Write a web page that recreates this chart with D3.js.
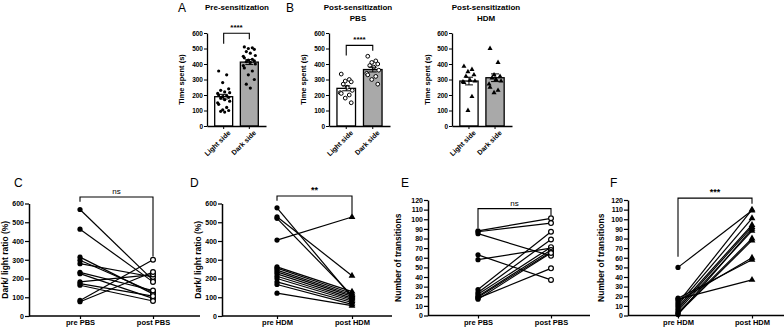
<!DOCTYPE html>
<html>
<head>
<meta charset="utf-8">
<script src="https://cdn.jsdelivr.net/npm/d3@7"></script>
<style>
  body { margin: 0; background: #fff; }
  svg { font-family: "Liberation Sans", Arial, sans-serif; }
  .axis text { font-weight: bold; fill: #000; }
  .axis path, .axis line { stroke: #000; }
</style>
</head>
<body>
<script>
// ---- data ----
const barCats = ["Light side", "Dark side"];
const barTicks = [0, 100, 200, 300, 400, 500, 600];

const preLight = [355, 330, 280, 240, 230, 220, 215, 210, 200, 195, 190, 185, 180, 170, 160, 150, 140, 120, 105, 100, 95, 90];
const preDark = [510, 505, 500, 495, 480, 470, 455, 450, 440, 430, 425, 420, 415, 410, 400, 390, 375, 355, 330, 300, 270, 245];
const pbsLight = [335, 300, 290, 285, 270, 250, 230, 215, 210, 200, 180, 150];
const pbsDark = [450, 420, 410, 400, 390, 380, 360, 340, 330, 320, 300, 270];
const hdmLight = [385, 365, 350, 330, 320, 295, 290, 285, 280, 190, 100];
const hdmDark = [500, 410, 330, 320, 310, 300, 290, 270, 250, 230, 215];

const pbsCats = ["pre PBS", "post PBS"];
const hdmCats = ["pre HDM", "post HDM"];
const ratioTicks = [0, 100, 200, 300, 400, 500, 600];
const transTicks = [0, 10, 20, 30, 40, 50, 60, 70, 80, 90, 100, 110, 120];

const ratioPrePBS = [568, 463, 314, 297, 279, 233, 226, 182, 173, 164, 83, 76];
const ratioPostPBS = [191, 182, 118, 127, 208, 136, 94, 221, 106, 80, 300, 235];
const ratioPreHDM = [577, 529, 521, 405, 262, 255, 245, 235, 225, 212, 200, 182, 168, 122];
const ratioPostHDM = [100, 215, 110, 528, 130, 120, 112, 105, 95, 88, 80, 72, 62, 55];
const transPrePBS = [88, 87, 85, 63, 58, 27, 24, 22, 20, 19, 18, 17];
const transPostPBS = [101, 96, 62, 37, 70, 87, 79, 71, 68, 66, 49, 65];
const transPreHDM = [50, 18, 17, 15, 13, 11, 9, 7, 5, 3, 2, 1];
const transPostHDM = [109, 58, 37, 60, 110, 101, 94, 92, 88, 80, 78, 90];

const svg = d3.select("body").append("svg")
    .attr("width", 784)
    .attr("height", 331);

function drawShape(g, shape, x, y) {
    if (shape === "dot") {
        g.append("circle").attr("cx", x).attr("cy", y).attr("r", 1.6).attr("fill", "#000");
    } else if (shape === "ring") {
        g.append("circle").attr("cx", x).attr("cy", y).attr("r", 1.9)
            .attr("fill", "#fff").attr("stroke", "#000").attr("stroke-width", 1);
    } else if (shape === "tri") {
        g.append("path").attr("d", d3.symbol(d3.symbolTriangle, 11)())
            .attr("transform", `translate(${x},${y})`).attr("fill", "#000");
    } else if (shape === "bigdot") {
        g.append("circle").attr("cx", x).attr("cy", y).attr("r", 2.6).attr("fill", "#000");
    } else if (shape === "bigring") {
        g.append("circle").attr("cx", x).attr("cy", y).attr("r", 2.4)
            .attr("fill", "#fff").attr("stroke", "#000").attr("stroke-width", 1.2);
    } else if (shape === "bigtri") {
        g.append("path").attr("d", d3.symbol(d3.symbolTriangle, 20)())
            .attr("transform", `translate(${x},${y})`).attr("fill", "#000");
    }
}

function bracket(g, x1, x2, yTop, yL, yR, label, size) {
    g.append("path")
        .attr("d", `M${x1},${yL}V${yTop}H${x2}V${yR}`)
        .attr("fill", "none").attr("stroke", "#000").attr("stroke-width", 1.1);
    g.append("text")
        .attr("x", (x1 + x2) / 2).attr("y", yTop - 3)
        .attr("text-anchor", "middle")
        .style("font-size", size + "px")
        .style("font-weight", label === "ns" ? "normal" : "bold")
        .text(label);
}

// ---- top row: bar charts ----
function barPanel(cfg) {
    const g = svg.append("g");
    const y = d3.scaleLinear().domain([0, 600]).range([126, 33]);
    const x = d3.scaleBand().domain(barCats).range([cfg.x0, cfg.x1])
        .paddingInner(0.3).paddingOuter(0.3);
    const groups = [cfg.light, cfg.dark];

    groups.forEach((vals, i) => {
        const m = d3.mean(vals);
        const sem = d3.deviation(vals) / Math.sqrt(vals.length);
        const bx = x(barCats[i]);
        g.append("rect")
            .attr("x", bx).attr("y", y(m))
            .attr("width", x.bandwidth()).attr("height", y(0) - y(m))
            .attr("fill", i === 0 ? "#fff" : "#a9a9a9")
            .attr("stroke", "#000").attr("stroke-width", 1.3);
        const cx = bx + x.bandwidth() / 2;
        // jitter the dots in a fixed pattern
        vals.forEach((v, j) => {
            const off = [-5, 3, -1, 5, -3, 1, 6, -6][j % 8];
            drawShape(g, cfg.shape, cx + off, y(v));
        });
        g.append("path")
            .attr("d", `M${cx},${y(m - sem)}V${y(m + sem)}M${cx - 4},${y(m + sem)}H${cx + 4}M${cx - 4},${y(m - sem)}H${cx + 4}`)
            .attr("stroke", "#000").attr("stroke-width", 1);
    });

    const ya = g.append("g").attr("class", "axis")
        .attr("transform", `translate(${cfg.x0},0)`)
        .call(d3.axisLeft(y).tickValues(barTicks).tickSize(3).tickSizeOuter(0));
    ya.selectAll("text").style("font-size", "6.5px").attr("x", -4);
    ya.select(".domain").attr("stroke-width", 1.3);

    const xa = g.append("g").attr("class", "axis")
        .attr("transform", `translate(0,126)`)
        .call(d3.axisBottom(x).tickSize(3).tickSizeOuter(0));
    xa.select(".domain").attr("stroke-width", 1.3);
    xa.selectAll("text")
        .style("font-size", "7px")
        .attr("text-anchor", "end")
        .attr("dy", 0)
        .attr("transform", "translate(3,3) rotate(-45)");

    g.append("text")
        .attr("transform", `translate(${cfg.labelX},${y(300)}) rotate(-90)`)
        .attr("text-anchor", "middle")
        .style("font-size", "7.5px").style("font-weight", "bold")
        .text("Time spent (s)");

    cfg.title.forEach((t, i) => {
        g.append("text")
            .attr("x", cfg.titleX).attr("y", 10 + i * 11)
            .attr("text-anchor", "middle")
            .style("font-size", "8px").style("font-weight", "bold")
            .text(t);
    });
    if (cfg.letter) {
        g.append("text").attr("x", cfg.letterX).attr("y", 12)
            .style("font-size", "12px").text(cfg.letter);
    }
    if (cfg.sig) {
        const c0 = x(barCats[0]) + x.bandwidth() / 2;
        const c1 = x(barCats[1]) + x.bandwidth() / 2;
        bracket(g, c0, c1, y(cfg.sig[0]), y(cfg.sig[1]), y(cfg.sig[2]), "****", 8);
    }
}

barPanel({ x0: 207, x1: 266, light: preLight, dark: preDark, shape: "dot",
    title: ["Pre-sensitization"], titleX: 237, letter: "A", letterX: 178,
    labelX: 184, sig: [598, 530, 560] });
barPanel({ x0: 329, x1: 390, light: pbsLight, dark: pbsDark, shape: "ring",
    title: ["Post-sensitization", "PBS"], titleX: 358, letter: "B", letterX: 286,
    labelX: 306, sig: [520, 455, 485] });
barPanel({ x0: 452, x1: 512, light: hdmLight, dark: hdmDark, shape: "tri",
    title: ["Post-sensitization", "HDM"], titleX: 486, letter: null,
    labelX: 430, sig: null });

// ---- bottom row: before/after plots ----
function pairPanel(cfg) {
    const g = svg.append("g");
    const y = d3.scaleLinear().domain([0, cfg.max]).range([cfg.y0, cfg.y1]);
    const x = d3.scalePoint().domain(cfg.cats).range([cfg.preX, cfg.postX]);

    cfg.pre.forEach((v, i) => {
        g.append("line")
            .attr("x1", x(cfg.cats[0])).attr("y1", y(v))
            .attr("x2", x(cfg.cats[1])).attr("y2", y(cfg.post[i]))
            .attr("stroke", "#000").attr("stroke-width", 1.2);
    });
    cfg.pre.forEach(v => drawShape(g, "bigdot", x(cfg.cats[0]), y(v)));
    cfg.post.forEach(v => drawShape(g, cfg.postShape, x(cfg.cats[1]), y(v)));

    const ya = g.append("g").attr("class", "axis")
        .attr("transform", `translate(${cfg.axisX},0)`)
        .call(d3.axisLeft(y).tickValues(cfg.ticks).tickSize(4).tickSizeOuter(0));
    ya.selectAll("text").style("font-size", "7px").attr("x", -5);
    ya.select(".domain").attr("stroke-width", 1.5);
    ya.selectAll(".tick line").attr("stroke-width", 1.2);

    const xa = g.append("g").attr("class", "axis")
        .attr("transform", `translate(0,${cfg.y0})`)
        .call(d3.axisBottom(x).tickSize(3).tickPadding(1).tickSizeOuter(0));
    xa.select(".domain").attr("d", `M${cfg.axisX},0H${cfg.endX}`).attr("stroke-width", 1.5);
    xa.selectAll(".tick line").attr("stroke-width", 1.2);
    xa.selectAll("text").style("font-size", "7.5px").attr("dy", "0.7em");

    g.append("text")
        .attr("transform", `translate(${cfg.labelX},${(cfg.y0 + cfg.y1) / 2}) rotate(-90)`)
        .attr("text-anchor", "middle")
        .style("font-size", "8.5px").style("font-weight", "bold")
        .text(cfg.ylabel);

    g.append("text").attr("x", cfg.letterX).attr("y", 187)
        .style("font-size", "12px").text(cfg.letter);

    bracket(g, x(cfg.cats[0]), x(cfg.cats[1]), y(cfg.sig[0]), y(cfg.sig[1]), y(cfg.sig[2]),
        cfg.sigLabel, cfg.sigLabel === "ns" ? 8 : 9);
}

pairPanel({ cats: pbsCats, pre: ratioPrePBS, post: ratioPostPBS, postShape: "bigring",
    max: 600, ticks: ratioTicks, y0: 316, y1: 203.5, axisX: 29, endX: 200,
    preX: 80, postX: 153, labelX: 8, ylabel: "Dark/ light ratio (%)",
    letter: "C", letterX: 14, sig: [635, 610, 318], sigLabel: "ns" });
pairPanel({ cats: hdmCats, pre: ratioPreHDM, post: ratioPostHDM, postShape: "bigtri",
    max: 600, ticks: ratioTicks, y0: 316, y1: 203.5, axisX: 222, endX: 392,
    preX: 277, postX: 352, labelX: 201, ylabel: "Dark/ light ratio (%)",
    letter: "D", letterX: 190, sig: [640, 615, 545], sigLabel: "**" });
pairPanel({ cats: pbsCats, pre: transPrePBS, post: transPostPBS, postShape: "bigring",
    max: 120, ticks: transTicks, y0: 315.5, y1: 200, axisX: 428, endX: 590,
    preX: 478, postX: 551, labelX: 401, ylabel: "Number of transitions",
    letter: "E", letterX: 401, sig: [111, 91, 104], sigLabel: "ns" });
pairPanel({ cats: hdmCats, pre: transPreHDM, post: transPostHDM, postShape: "bigtri",
    max: 120, ticks: transTicks, y0: 315.5, y1: 200, axisX: 628, endX: 784,
    preX: 678, postX: 752, labelX: 604, ylabel: "Number of transitions",
    letter: "F", letterX: 610, sig: [122, 61, 116], sigLabel: "***" });
</script>
</body>
</html>
